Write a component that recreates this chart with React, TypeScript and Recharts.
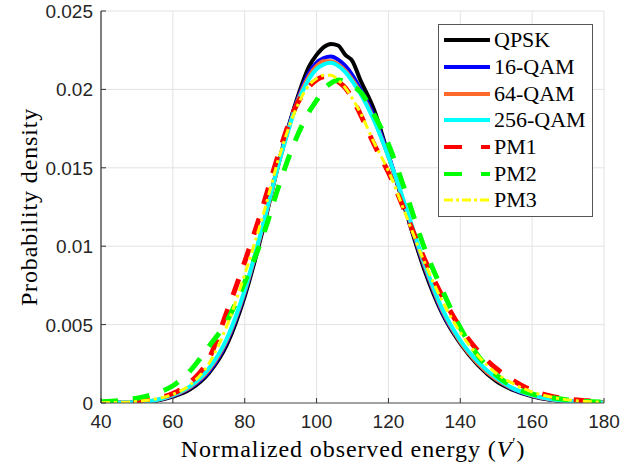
import { LineChart, Line, XAxis, YAxis, CartesianGrid } from 'recharts'

// energy axis samples (shared by every series)
const energy = [
  40, 45, 50, 55, 60, 65, 70, 75, 80, 85, 90, 94, 98, 100, 102, 104, 106, 108, 110, 112, 116, 120, 125, 130, 135,
  140, 145, 150, 155, 160, 165, 170, 175, 180,
]

const qpsk = [
  0, 0.00001, 0.00004, 0.00013, 0.0004, 0.0009, 0.0019, 0.0037, 0.0068, 0.011, 0.0158, 0.019, 0.0215, 0.0222, 0.0227,
  0.0229, 0.0228, 0.0222, 0.0218, 0.0207, 0.0187, 0.0158, 0.0121, 0.0085, 0.0057, 0.0038, 0.0024, 0.0014, 0.0008,
  0.00042, 0.0002, 0.0001, 0.00004, 0.00001,
]
const qam16 = [
  0, 0.00001, 0.00005, 0.00015, 0.00045, 0.001, 0.002, 0.0039, 0.007, 0.0112, 0.0158, 0.0189, 0.0211, 0.0217, 0.022,
  0.0221, 0.0219, 0.0215, 0.0209, 0.0201, 0.0183, 0.0158, 0.0122, 0.0087, 0.0058, 0.0039, 0.0025, 0.0015, 0.00085,
  0.00045, 0.00022, 0.0001, 0.00004, 0.00001,
]
const qam64 = [
  0, 0.00001, 0.00005, 0.00016, 0.00048, 0.00105, 0.0021, 0.004, 0.0071, 0.0112, 0.0157, 0.0188, 0.0209, 0.0215,
  0.0218, 0.0218, 0.0216, 0.0212, 0.0206, 0.0199, 0.0181, 0.0157, 0.0123, 0.0088, 0.0059, 0.0039, 0.0025, 0.0015,
  0.00088, 0.00048, 0.00024, 0.00011, 0.00004, 0.00001,
]
const qam256 = [
  0, 0.00002, 0.00006, 0.00018, 0.0005, 0.0011, 0.0022, 0.0041, 0.0072, 0.0113, 0.0157, 0.0187, 0.0207, 0.0213,
  0.0216, 0.0217, 0.0215, 0.0211, 0.0205, 0.0198, 0.018, 0.0157, 0.0124, 0.0089, 0.006, 0.004, 0.0026, 0.0016, 0.0009,
  0.0005, 0.00025, 0.00012, 0.00005, 0.00002,
]
const pm1 = [
  0.00003, 0.00006, 0.00015, 0.0003, 0.0006, 0.00135, 0.0028, 0.0058, 0.009, 0.0125, 0.0163, 0.0188, 0.0202, 0.0206,
  0.0208, 0.0208, 0.0205, 0.0201, 0.0194, 0.0185, 0.0165, 0.0147, 0.012, 0.0092, 0.0068, 0.0048, 0.0033, 0.0022,
  0.0014, 0.0008, 0.00045, 0.00025, 0.00015, 0.00008,
]
const pm2 = [
  0.00008, 0.00015, 0.0003, 0.0006, 0.0011, 0.0021, 0.0036, 0.0052, 0.0077, 0.0106, 0.0142, 0.0167, 0.0186, 0.0193,
  0.02, 0.0204, 0.0206, 0.0205, 0.0202, 0.0199, 0.0184, 0.0165, 0.0133, 0.0099, 0.0072, 0.0048, 0.003, 0.0018, 0.001,
  0.00058, 0.00035, 0.0002, 0.0001, 0.00006,
]
const pm3 = [
  0.00002, 0.00004, 0.0001, 0.00025, 0.00055, 0.0012, 0.0025, 0.0049, 0.0082, 0.0119, 0.016, 0.0186, 0.0203, 0.0207,
  0.0209, 0.0209, 0.0206, 0.0201, 0.0194, 0.0186, 0.0166, 0.0148, 0.0119, 0.009, 0.0065, 0.0045, 0.003, 0.0019,
  0.0012, 0.0007, 0.0004, 0.0002, 0.0001, 0.00005,
]

const xTicks = [40, 60, 80, 100, 120, 140, 160, 180]
const yTicks = [0, 0.005, 0.01, 0.015, 0.02, 0.025]

const SERIES = [
  { key: 'qpsk', name: 'QPSK', values: qpsk, color: '#000000', width: 4, dash: undefined, legendDash: undefined },
  { key: 'qam16', name: '16-QAM', values: qam16, color: '#0000ff', width: 4, dash: undefined, legendDash: undefined },
  { key: 'qam64', name: '64-QAM', values: qam64, color: '#ff6a2a', width: 4, dash: undefined, legendDash: undefined },
  { key: 'qam256', name: '256-QAM', values: qam256, color: '#00ffff', width: 4, dash: undefined, legendDash: undefined },
  { key: 'pm1', name: 'PM1', values: pm1, color: '#ff0000', width: 5, dash: '17 15', legendDash: '18 19' },
  { key: 'pm2', name: 'PM2', values: pm2, color: '#00ff00', width: 5, dash: '17 15', legendDash: '18 19' },
  { key: 'pm3', name: 'PM3', values: pm3, color: '#ffff00', width: 3, dash: '9 4 3 4', legendDash: '9 3 3 3' },
]

const rows = energy.map((x, i) => {
  const row: Record<string, number> = { x }
  SERIES.forEach((s) => {
    row[s.key] = s.values[i]
  })
  return row
})

const SANS = 'Liberation Sans'
const SERIF = 'Liberation Serif'

// MATLAB style: ticks point inward
function XTick({ x, y, payload }: any) {
  return (
    <g>
      <line x1={x} x2={x} y1={y} y2={y - 5} stroke="#333" />
      <text x={x} y={y + 25} textAnchor="middle" fontFamily={SANS} fontSize={19} fill="#262626">
        {payload.value}
      </text>
    </g>
  )
}

function YTick({ x, y, payload }: any) {
  return (
    <g>
      <line x1={x} x2={x + 5} y1={y} y2={y} stroke="#333" />
      <text x={x - 8} y={y + 7} textAnchor="end" fontFamily={SANS} fontSize={19} fill="#262626">
        {String(payload.value)}
      </text>
    </g>
  )
}

// axis titles and legend as plain HTML on top of the chart
const labelBase = {
  position: 'absolute' as const,
  fontFamily: SERIF,
  fontSize: 24,
  color: '#000',
  whiteSpace: 'nowrap' as const,
  lineHeight: '26px',
}

function LegendBox() {
  return (
    <div
      style={{
        position: 'absolute',
        left: 438,
        top: 24,
        width: 153,
        height: 189,
        border: '1px solid #555',
        background: '#fff',
        paddingTop: 2,
        boxSizing: 'content-box',
      }}
    >
      {SERIES.map((s) => (
        <div key={s.key} style={{ display: 'flex', alignItems: 'center', height: 26.7 }}>
          <svg width={55} height={10} style={{ display: 'block', flex: 'none' }}>
            <line
              x1={5}
              x2={51}
              y1={5}
              y2={5}
              stroke={s.color}
              strokeWidth={s.key === 'pm3' ? 3 : 4}
              strokeDasharray={s.legendDash}
            />
          </svg>
          <span style={{ fontFamily: SERIF, fontSize: 22, lineHeight: '24px', color: '#000' }}>{s.name}</span>
        </div>
      ))}
    </div>
  )
}

export default function App() {
  return (
    <div style={{ position: 'absolute', left: 0, top: 0, width: 636, height: 466, background: '#fff' }}>
      <LineChart width={636} height={466} data={rows} margin={{ top: 11, right: 32, bottom: 23, left: 31 }}>
        <CartesianGrid stroke="#e3e3e3" />
        <XAxis
          dataKey="x"
          type="number"
          domain={[40, 180]}
          ticks={xTicks}
          height={40}
          tickSize={0}
          tickMargin={0}
          tickLine={false}
          tick={<XTick />}
          axisLine={{ stroke: '#555', strokeWidth: 1.2 }}
          allowDataOverflow
        />
        <YAxis
          type="number"
          domain={[0, 0.025]}
          ticks={yTicks}
          width={70}
          tickSize={0}
          tickMargin={0}
          tickLine={false}
          tick={<YTick />}
          axisLine={{ stroke: '#333', strokeWidth: 1.2 }}
          allowDataOverflow
        />
        {SERIES.map((s) => (
          <Line
            key={s.key}
            dataKey={s.key}
            name={s.name}
            type="monotone"
            stroke={s.color}
            strokeWidth={s.width}
            strokeDasharray={s.dash}
            dot={false}
            activeDot={false}
            isAnimationActive={false}
          />
        ))}
      </LineChart>
      <div style={{ ...labelBase, left: 0, width: 706, top: 436, textAlign: 'center', letterSpacing: 0.9 }}>
        Normalized observed energy (<i>V</i>
        <sup style={{ fontSize: 15, verticalAlign: 'top', lineHeight: '14px' }}>′</sup>)
      </div>
      <div
        style={{
          ...labelBase,
          left: 29 - 100,
          top: 207 - 13,
          width: 200,
          textAlign: 'center',
          letterSpacing: 0.85,
          transform: 'rotate(-90deg)',
        }}
      >
        Probability density
      </div>
      <LegendBox />
    </div>
  )
}
